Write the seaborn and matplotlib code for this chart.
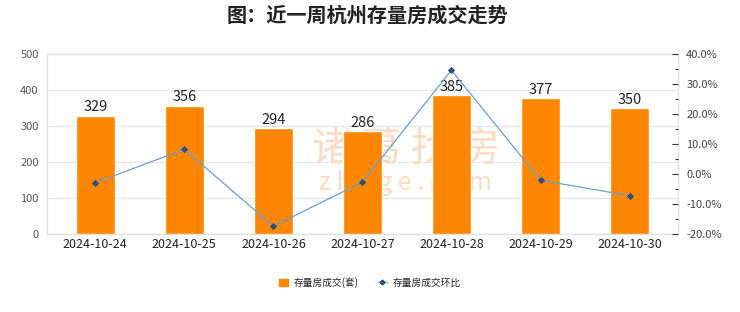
import matplotlib
matplotlib.use("Agg")
import matplotlib.pyplot as plt
import seaborn as sns
import pandas as pd
from matplotlib.ticker import MultipleLocator, FuncFormatter
from matplotlib.lines import Line2D
from matplotlib.patches import Patch

dates = ["2024-10-24", "2024-10-25", "2024-10-26", "2024-10-27",
         "2024-10-28", "2024-10-29", "2024-10-30"]
volumes = [329, 356, 294, 286, 385, 377, 350]
mom_pct = [-2.9, 8.2, -17.4, -2.7, 34.6, -2.1, -7.2]

title = "图：近一周杭州存量房成交走势"
bar_label = "存量房成交(套)"
line_label = "存量房成交环比"

sns.set_theme(style="white")
plt.rcParams["font.family"] = ["Noto Sans CJK SC", "DejaVu Sans"]

df = pd.DataFrame({"date": dates, "volume": volumes, "mom": mom_pct})

fig = plt.figure(figsize=(7.4, 3.12), dpi=100)
ax = fig.add_axes([0.0635, 0.25, 0.8525, 0.577])

bar_color = "#FF8600"
line_color = "#6A9FD4"
wm_color = "#F9DCC3"

sns.barplot(data=df, x="date", y="volume", color=bar_color, width=0.44,
            ax=ax, zorder=3, saturation=1)

# watermark (behind bars)
ax.text(0.548, 0.522, "诸 葛 找 房", fontsize=29, color=wm_color, ha="center",
        va="center", zorder=1, transform=fig.transFigure)
ax.text(0.548, 0.415, "z h u g e . c o m", fontsize=18, color=wm_color,
        ha="center", va="center", zorder=1, transform=fig.transFigure)

ax.set_ylim(0, 500)
ax.yaxis.set_major_locator(MultipleLocator(100))
ax.grid(axis="y", color="#E6E6E6", linewidth=0.9, zorder=0)
ax.set_axisbelow(True)
for s in ax.spines.values():
    s.set_color("#E2E2E2")
    s.set_linewidth(1.0)
ax.set_xlabel("")
ax.set_ylabel("")
ax.tick_params(axis="y", labelsize=8, labelcolor="#555555", length=0, pad=6)
ax.tick_params(axis="x", labelsize=9, labelcolor="#222222", length=0, pad=3)
for c in ax.containers:
    ax.bar_label(c, fmt="%d", fontsize=10.5, color="#222222", padding=1)

ax2 = ax.twinx()
sns.lineplot(x=list(range(len(dates))), y=df["mom"], ax=ax2, color=line_color,
             linewidth=0.9, marker="D", markersize=3,
             markerfacecolor="#2F4F7A", markeredgecolor="#2F4F7A", zorder=5)
ax2.set_ylim(-20, 40)
ax2.yaxis.set_major_locator(MultipleLocator(10))
ax2.yaxis.set_minor_locator(MultipleLocator(5))
ax2.yaxis.set_major_formatter(FuncFormatter(lambda v, p: f"{v:.1f}%"))
ax2.tick_params(axis="y", which="major", direction="in", length=4, width=0.8,
                color="#333333", labelsize=8, labelcolor="#444444", pad=6)
ax2.tick_params(axis="y", which="minor", direction="in", length=2.5, width=0.8,
                color="#333333")
ax2.set_ylabel("")
for s in ax2.spines.values():
    s.set_visible(False)
ax2.grid(False)

fig.text(0.497, 0.95, title, fontsize=14.5, fontweight="bold", color="#222222",
         ha="center", va="center")

handles = [Patch(facecolor=bar_color, edgecolor=bar_color),
           Line2D([0], [0], color=line_color, linewidth=0.9, marker="D",
                  markersize=2.5, markerfacecolor="#2F4F7A",
                  markeredgecolor="#2F4F7A")]
fig.legend(handles, [bar_label, line_label], loc="center",
           bbox_to_anchor=(0.5, 0.095), ncol=2, frameon=False, fontsize=7,
           handlelength=0.9, handleheight=0.7, columnspacing=2.0,
           handletextpad=0.6)

fig.savefig("out.png", dpi=100)
